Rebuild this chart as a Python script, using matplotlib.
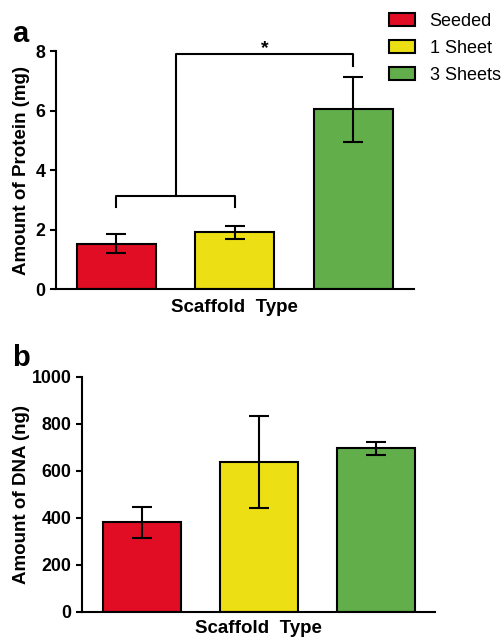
import matplotlib
matplotlib.use("Agg")
import matplotlib.pyplot as plt
from matplotlib.patches import Patch

plt.rcParams['font.family'] = ['Liberation Sans', 'DejaVu Sans']

categories = ["Seeded", "1 Sheet", "3 Sheets"]
colors = ["#E00D25", "#ECE014", "#62AE4B"]

protein_mean = [1.53, 1.91, 6.04]
protein_err = [0.32, 0.22, 1.10]

dna_mean = [380, 636, 695]
dna_err = [67, 196, 27]

protein_ticks = [0, 2, 4, 6, 8]
dna_ticks = [0, 200, 400, 600, 800, 1000]

# significance bracket (data coords)
low_bracket_x = [0, 0, 1, 1]
low_bracket_y = [2.77, 3.13, 3.13, 2.77]
high_bracket_x = [0.5, 0.5, 2, 2]
high_bracket_y = [3.13, 7.9, 7.9, 7.5]
star_x, star_y = 1.25, 7.93

LW = 1.5
fig = plt.figure(figsize=(5.04, 6.4), dpi=100)

def style(ax, ticks, ylim, xlim):
    ax.set_ylim(*ylim)
    ax.set_xlim(*xlim)
    ax.set_yticks(ticks)
    ax.set_xticks([])
    for s in ["top", "right"]:
        ax.spines[s].set_visible(False)
    for s in ["left", "bottom"]:
        ax.spines[s].set_linewidth(LW)
    ax.tick_params(axis='y', direction='out', length=4.5, width=LW, labelsize=12.8, pad=3)
    for lab in ax.get_yticklabels():
        lab.set_fontweight('bold')

x = [0, 1, 2]

# Panel a
axa = fig.add_axes([0.111, 0.5484, 0.71, 0.3719])
bars = axa.bar(x, protein_mean, width=0.667, color=colors, edgecolor='black', linewidth=LW, zorder=2)
axa.errorbar(x, protein_mean, yerr=protein_err, fmt='none', ecolor='black', elinewidth=LW,
             capsize=7, capthick=LW, zorder=3)
style(axa, protein_ticks, (0, 8), (-0.51, 2.51))
axa.set_ylabel("Amount of Protein (mg)", fontsize=13.5, fontweight='bold')
axa.yaxis.set_label_coords(-0.073, 0.5)
axa.set_xlabel("Scaffold  Type", fontsize=13.5, fontweight='bold')
axa.xaxis.set_label_coords(0.5, -0.04)
axa.plot(low_bracket_x, low_bracket_y, color='black', lw=LW, clip_on=False)
axa.plot(high_bracket_x, high_bracket_y, color='black', lw=LW, clip_on=False)
axa.text(star_x, star_y, "*", ha='center', va='baseline', fontsize=14, fontweight='bold')

fig.legend(handles=[Patch(facecolor=c, edgecolor='black', linewidth=LW) for c in colors],
           labels=categories, loc='upper left', bbox_to_anchor=(389 / 504, 1 - 13 / 640),
           frameon=False, fontsize=13, handlelength=1.45, handleheight=0.72,
           handletextpad=0.8, labelspacing=0.56, borderpad=0, borderaxespad=0)

# Panel b
axb = fig.add_axes([0.1627, 0.0442, 0.7003, 0.3672])
axb.bar(x, dna_mean, width=0.667, color=colors, edgecolor='black', linewidth=LW, zorder=2)
axb.errorbar(x, dna_mean, yerr=dna_err, fmt='none', ecolor='black', elinewidth=LW,
             capsize=7, capthick=LW, zorder=3)
style(axb, dna_ticks, (0, 1000), (-0.513, 2.504))
axb.set_ylabel("Amount of DNA (ng)", fontsize=13.5, fontweight='bold')
axb.yaxis.set_label_coords(-0.147, 0.5)
axb.set_xlabel("Scaffold  Type", fontsize=13.5, fontweight='bold')
axb.xaxis.set_label_coords(0.4986, -0.036)

fig.text(12.5 / 504, 1 - 41.5 / 640, "a", fontsize=21, fontweight='bold', ha='left', va='baseline')
fig.text(12.5 / 504, 1 - 366.5 / 640, "b", fontsize=21, fontweight='bold', ha='left', va='baseline')

fig.savefig("out.png", dpi=100)
